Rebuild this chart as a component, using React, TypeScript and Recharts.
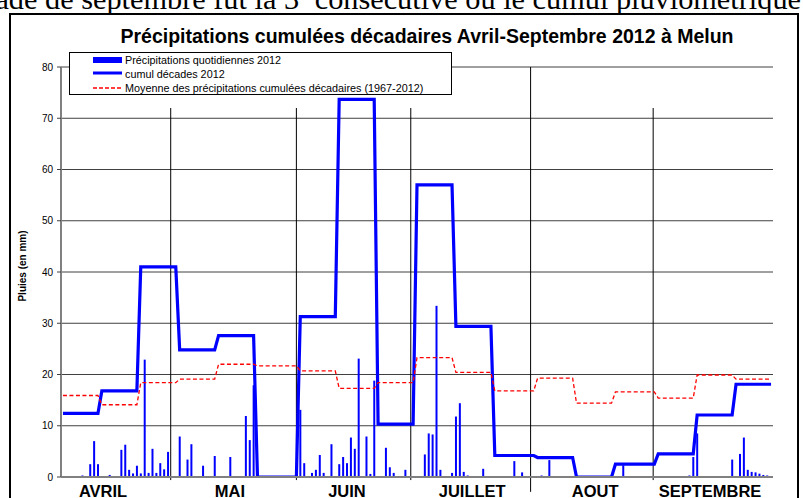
import React from 'react';
import { ComposedChart, Bar, Line, XAxis, YAxis, CartesianGrid, ReferenceLine } from 'recharts';

const headerText = 'décade de septembre fut la 3';
const headerSup = 'e';
const headerTail = ' consécutive où le cumul pluviométrique';
const title = 'Précipitations cumulées décadaires Avril-Septembre 2012 à Melun';
const yAxisLabel = 'Pluies (en mm)';
const yTicks = [0, 10, 20, 30, 40, 50, 60, 70, 80];
const monthLabels = ['AVRIL', 'MAI', 'JUIN', 'JUILLET', 'AOUT', 'SEPTEMBRE'];
const monthLabelDays = [11.3, 43.9, 74, 106.2, 137.8, 167.3];
const monthSeparatorDays = [28.7, 61.0, 90.4, 121.2, 152.7];
const separatorTop = [72, 72, 72, 80, 72];
const separatorBottom = [-0.6, -0.6, -0.6, -2.9, -0.6];
const legendLabels = [
  'Précipitations quotidiennes 2012',
  'cumul décades 2012',
  'Moyenne des précipitations cumulées décadaires (1967-2012)',
];

const dayCount = 183;
const decadeStart = [1, 11, 21, 31, 41, 51, 62, 72, 82, 92, 102, 112, 123, 133, 143, 154, 164, 174];
const decadeEnd = [10, 20, 30, 40, 50, 61, 71, 81, 91, 101, 111, 122, 132, 142, 153, 163, 173, 183];
const cumulDecades = [12.4, 16.8, 41.0, 24.8, 27.6, 0, 31.3, 73.7, 10.3, 57.0, 29.4, 4.2, 3.8, 0, 2.5, 4.5, 12.1, 18.1];
const meanDecades = [15.9, 14.1, 18.4, 19.1, 22.0, 21.7, 20.7, 17.3, 18.4, 23.3, 20.4, 16.8, 19.3, 14.4, 16.6, 15.4, 19.9, 19.1];

const rainDays = [
  6, 8, 9, 10, 13, 16, 17, 18, 19, 20, 21, 22, 23, 24, 25, 26, 27, 28,
  31, 32, 33, 34, 37, 40, 44, 47, 48, 49, 50,
  62, 63, 65, 66, 67, 68, 69, 70, 71, 72, 73, 74, 75, 76, 77, 79, 80, 81, 84, 85, 86, 89,
  94, 95, 96, 97, 98, 101, 102, 103, 104, 105, 109, 117, 119,
  122, 123, 124, 126, 145,
  154, 162, 163, 164, 173, 175, 176, 177, 178, 179, 180, 181, 182,
];
const rainValues = [
  0.3, 2.5, 7.0, 2.5, 0.4, 5.3, 6.3, 1.4, 0.7, 2.2, 0.7, 22.9, 0.8, 5.5, 0.8, 2.7, 1.5, 4.9,
  7.9, 0.2, 3.4, 6.4, 2.2, 4.1, 3.9, 0.2, 11.9, 7.2, 17.9,
  13.1, 2.7, 0.8, 1.4, 4.3, 0.8, 0.2, 6.4, 0.1, 2.5, 3.9, 2.7, 7.7, 5.5, 23.1, 7.9, 0.6, 18.8, 5.7, 1.9, 0.8, 1.4,
  4.4, 8.5, 8.3, 33.4, 1.4, 0.8, 11.8, 14.4, 1.0, 0.3, 1.6, 3.1, 0.9,
  0.1, 0.1, 0.3, 3.3, 2.3,
  0.2, 0.3, 3.9, 8.5, 3.4, 4.5, 7.7, 1.4, 1.0, 0.9, 0.65, 0.4, 0.3,
];

const data = Array.from({ length: dayCount }, (_, i) => {
  const day = i + 1;
  const k = decadeStart.findIndex((s, j) => day >= s && day <= decadeEnd[j]);
  const r = rainDays.indexOf(day);
  return { day, rain: r >= 0 ? rainValues[r] : null, cumul: cumulDecades[k], mean: meanDecades[k] };
});

const FONT = '"Liberation Sans", Arial, sans-serif';

const MonthTick = (props: any) => {
  const { x, y, payload } = props;
  const idx = monthLabelDays.indexOf(payload.value);
  return (
    <text x={x} y={y + 18} textAnchor="middle" fontFamily={FONT} fontWeight="bold" fontSize={16.5} fill="#000">
      {monthLabels[idx]}
    </text>
  );
};

const LegendBox = () => (
  <div style={{ position: 'absolute', left: 69, top: 52, width: 381, height: 41, border: '1px solid #000', background: '#fff', fontFamily: FONT, fontSize: 10.8, color: '#000' }}>
    <div style={{ position: 'absolute', left: 23, top: 4, width: 29, height: 6, background: '#0000FF' }} />
    <div style={{ position: 'absolute', left: 55, top: 1, lineHeight: '12px', whiteSpace: 'nowrap' }}>{legendLabels[0]}</div>
    <svg style={{ position: 'absolute', left: 23, top: 15 }} width={30} height={10}>
      <line x1={0} y1={5} x2={29} y2={5} stroke="#0000FF" strokeWidth={3} />
    </svg>
    <div style={{ position: 'absolute', left: 55, top: 15, lineHeight: '12px', whiteSpace: 'nowrap' }}>{legendLabels[1]}</div>
    <svg style={{ position: 'absolute', left: 23, top: 30 }} width={30} height={10}>
      <line x1={0} y1={5} x2={29} y2={5} stroke="#FF0000" strokeWidth={1.3} strokeDasharray="4 2" />
    </svg>
    <div style={{ position: 'absolute', left: 55, top: 29, lineHeight: '12px', whiteSpace: 'nowrap' }}>{legendLabels[2]}</div>
  </div>
);

const YLabel = (props: any) => {
  const vb = props.viewBox || { x: 0, y: 0, width: 0, height: 0 };
  const cx = vb.x + 26;
  const cy = vb.y + vb.height / 2 - 6;
  return (
    <text x={cx} y={cy} transform={`rotate(-90 ${cx} ${cy})`} textAnchor="middle" fontFamily={FONT} fontWeight="bold" fontSize={10} fill="#000">
      {yAxisLabel}
    </text>
  );
};

export default function App() {
  return (
    <div style={{ position: 'fixed', left: 0, top: 0, width: 803, height: 498, background: '#fff', overflow: 'hidden', fontFamily: FONT }}>
      <div style={{ position: 'absolute', right: 2, top: -17, fontFamily: '"Liberation Serif", "Times New Roman", serif', fontSize: 30.3, lineHeight: '32px', whiteSpace: 'nowrap', color: '#000' }}>
        {headerText}<sup style={{ fontSize: 18, lineHeight: 0 }}>{headerSup}</sup>{headerTail}
      </div>
      <div style={{ position: 'absolute', left: 9, top: 13, width: 786, height: 520, border: '2px solid #000' }} />
      <div style={{ position: 'absolute', left: 27, top: 26, width: 800, textAlign: 'center', fontFamily: FONT, fontWeight: 'bold', fontSize: 19.5, lineHeight: '20px', whiteSpace: 'nowrap', color: '#000' }}>
        {title}
      </div>
      <div style={{ position: 'absolute', left: 0, top: 0 }}>
        <ComposedChart width={803} height={498} data={data} margin={{ top: 67, right: 30, bottom: 0, left: 0 }}>
          <CartesianGrid horizontal vertical={false} stroke="#404040" strokeWidth={1} />
          <XAxis
            dataKey="day"
            type="number"
            domain={[0.5, 183.5]}
            ticks={monthLabelDays}
            tick={<MonthTick />}
            tickLine={false}
            tickSize={0}
            height={21}
            axisLine={{ stroke: '#808080', strokeWidth: 2 }}
            interval={0}
            allowDataOverflow
          />
          <YAxis
            type="number"
            domain={[0, 80]}
            ticks={yTicks}
            width={61}
            tickSize={4}
            tickLine={{ stroke: '#404040' }}
            axisLine={{ stroke: '#808080', strokeWidth: 2 }}
            tick={{ fontFamily: FONT, fontSize: 10, fill: '#000' }}
            tickMargin={4}
            interval={0}
            allowDataOverflow
            label={<YLabel />}
          />
          {monthSeparatorDays.map((d, i) => (
            <ReferenceLine
              key={i}
              segment={[{ x: d, y: separatorTop[i] }, { x: d, y: separatorBottom[i] }]}
              stroke="#000"
              strokeWidth={1}
              ifOverflow="visible"
            />
          ))}
          <Bar dataKey="rain" fill="#0000FF" barSize={2} isAnimationActive={false} />
          <Line type="linear" dataKey="cumul" stroke="#0000FF" strokeWidth={3.2} dot={false} activeDot={false} isAnimationActive={false} />
          <Line type="linear" dataKey="mean" stroke="#FF0000" strokeWidth={1.3} strokeDasharray="4 2.5" dot={false} activeDot={false} isAnimationActive={false} />
        </ComposedChart>
      </div>
      <LegendBox />
    </div>
  );
}
